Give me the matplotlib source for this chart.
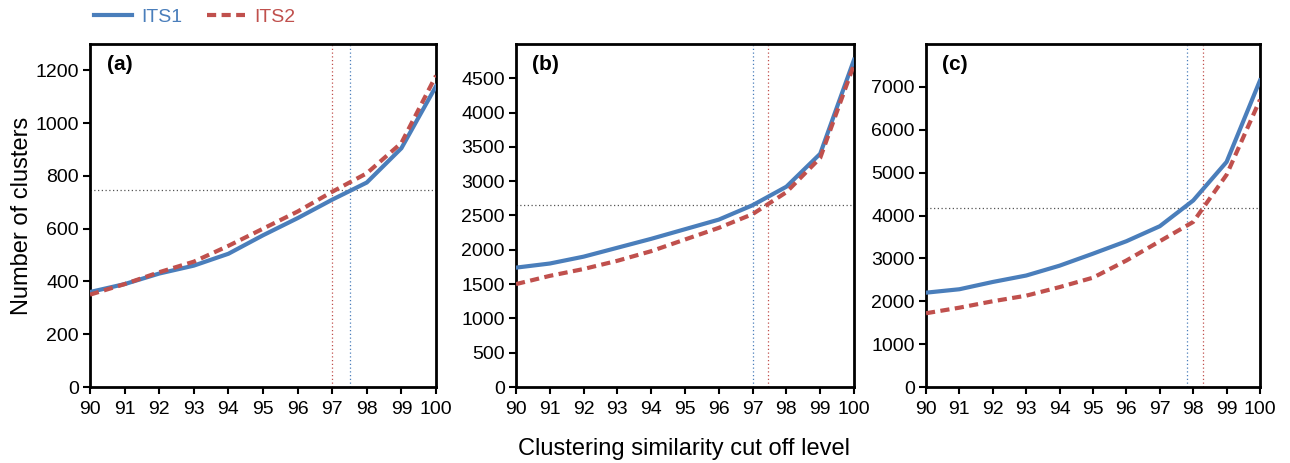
import numpy as np
import matplotlib.pyplot as plt
from matplotlib.lines import Line2D

plt.rcParams['font.family'] = ['Liberation Sans', 'DejaVu Sans']

levels = [90, 91, 92, 93, 94, 95, 96, 97, 98, 99, 100]

its1_a = [360, 390, 430, 460, 505, 575, 640, 710, 775, 905, 1140]
its2_a = [350, 390, 435, 475, 535, 600, 665, 740, 810, 925, 1180]
its1_b = [1740, 1800, 1900, 2030, 2160, 2300, 2440, 2650, 2920, 3400, 4770]
its2_b = [1500, 1620, 1720, 1840, 1980, 2150, 2320, 2520, 2840, 3340, 4700]
its1_c = [2200, 2280, 2450, 2600, 2830, 3110, 3400, 3750, 4350, 5250, 7150]
its2_c = [1720, 1850, 2000, 2130, 2330, 2550, 2950, 3400, 3850, 4950, 6700]

# horizontal reference level, cut off for ITS1, cut off for ITS2
ref_a = (745, 97.5, 97.0)
ref_b = (2650, 97.0, 97.45)
ref_c = (4180, 97.8, 98.3)

panels = [
    ("(a)", its1_a, its2_a, ref_a, 1300, 200),
    ("(b)", its1_b, its2_b, ref_b, 5000, 500),
    ("(c)", its1_c, its2_c, ref_c, 8000, 1000),
]
yticks_max = [1200, 4500, 7000]

blue = '#4a7ebb'
red = '#c0504d'

fig = plt.figure(figsize=(12.9, 4.63), dpi=100)
boxes = [(90, 436), (516, 854), (926, 1260)]
top, bottom = 44, 387
W, H = 1290, 463

for i, (label, s1, s2, ref, ymax, step) in enumerate(panels):
    l, r = boxes[i]
    ax = fig.add_axes([l / W, 1 - bottom / H, (r - l) / W, (bottom - top) / H])
    ax.plot(levels, s1, color=blue, lw=3, solid_joinstyle='miter', zorder=3)
    ax.plot(levels, s2, color=red, lw=3, ls=(0, (2.2, 1.3)), zorder=4)
    hy, vx1, vx2 = ref
    ax.axhline(hy, color='#555555', lw=0.9, ls=(0, (1, 2)), zorder=2)
    ax.axvline(vx1, color=blue, lw=0.9, ls=(0, (1, 2)), zorder=2)
    ax.axvline(vx2, color=red, lw=0.9, ls=(0, (1, 2)), zorder=2)
    ax.set_xlim(90, 100)
    ax.set_ylim(0, ymax)
    ax.set_xticks(levels)
    ax.set_yticks(np.arange(0, yticks_max[i] + 1, step))
    ax.tick_params(direction='out', length=5, width=1.5, labelsize=14)
    ax.tick_params(axis='x', pad=5)
    ax.tick_params(axis='y', pad=3)
    for sp in ax.spines.values():
        sp.set_linewidth(2)
    ax.text(0.048, 0.94, label, transform=ax.transAxes, fontsize=15,
            fontweight='bold', va='center', ha='left')
    if i == 0:
        ax.set_ylabel("Number of clusters", fontsize=17, labelpad=2)

fig.text(0.53, 0.03, "Clustering similarity cut off level", fontsize=17,
         ha='center', va='center')

handles = [Line2D([], [], color=blue, lw=3),
           Line2D([], [], color=red, lw=3, ls=(0, (2.2, 1.3)))]
leg = fig.legend(handles, ["ITS1", "ITS2"], loc='upper left',
                 bbox_to_anchor=(76 / W, 1.02), ncol=2, frameon=False,
                 fontsize=14, handlelength=2.0, columnspacing=1.25,
                 handletextpad=0.45)
for t, c in zip(leg.get_texts(), [blue, red]):
    t.set_color(c)

fig.savefig("out.png", dpi=100)
